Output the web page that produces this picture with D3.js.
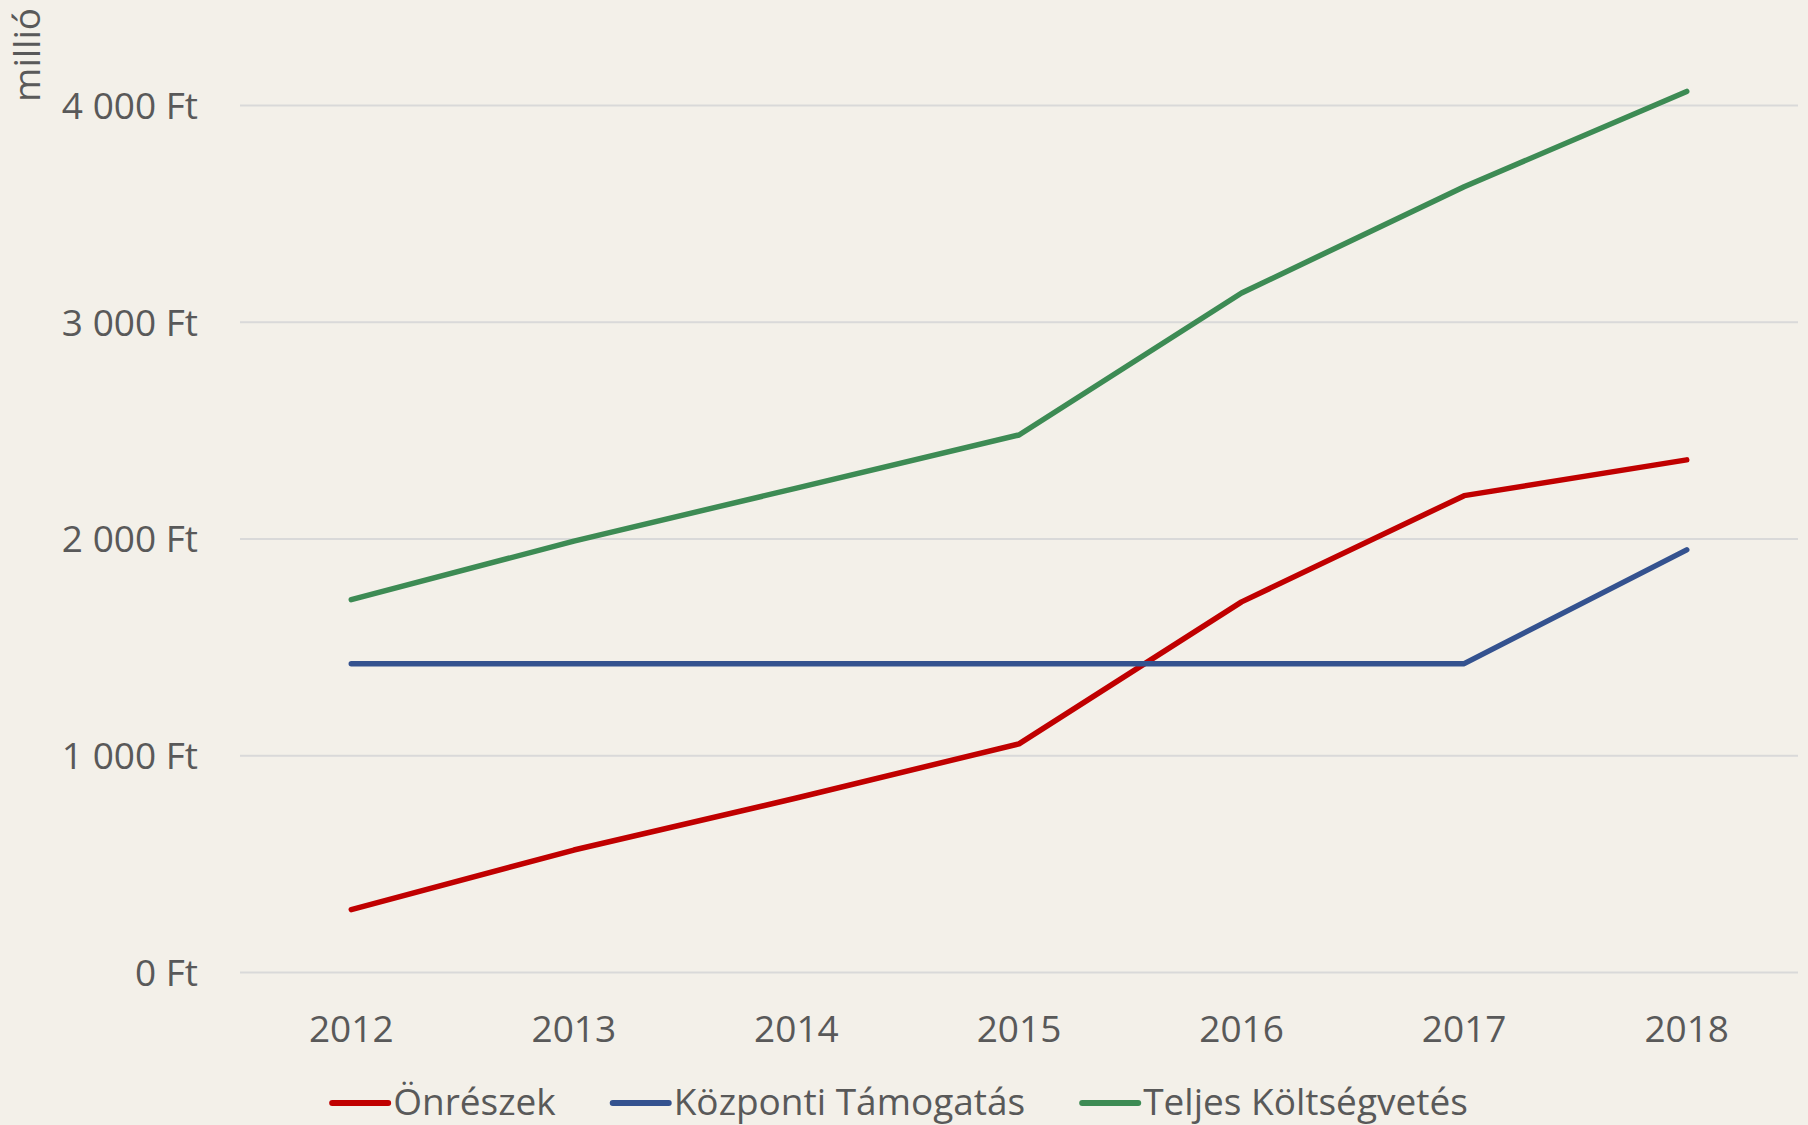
<!DOCTYPE html>
<html>
<head>
<meta charset="utf-8">
<script src="https://cdn.jsdelivr.net/npm/d3@7"></script>
<style>
  html, body { margin: 0; padding: 0; background: #F3F0E9; }
  svg { display: block; }
</style>
</head>
<body>
<div id="chart"></div>
<script>
// Data
var years = ['2012', '2013', '2014', '2015', '2016', '2017', '2018'];
var onreszek = [290, 565, 805, 1055, 1710, 2200, 2365];
var kozponti = [1425, 1425, 1425, 1425, 1425, 1425, 1950];
var teljes = [1720, 1990, 2235, 2480, 3135, 3625, 4065];
var yTicks = [0, 1000, 2000, 3000, 4000];
var seriesNames = ['Önrészek', 'Központi Támogatás', 'Teljes Költségvetés'];
var seriesColors = ['#C00000', '#34528F', '#3D8B54'];

var series = [onreszek, kozponti, teljes];

var settings = {}
settings.font_family = '"Open Sans", "Noto Sans", sans-serif'
settings.font_size = '37px'
settings.text_color = '#595959'
settings.grid_color = '#D9D9D9'
settings.line_width = 5.5

var width = 1808, height = 1125;
var plot = {left: 240, right: 1798, top: 105.5, bottom: 972.5};

var svg = d3.select('#chart').append('svg')
    .attr('width', width)
    .attr('height', height);

svg.append('rect')
    .attr('width', width)
    .attr('height', height)
    .attr('fill', '#F3F0E9');

var x = d3.scaleBand()
    .domain(years)
    .range([plot.left, plot.right]);

var y = d3.scaleLinear()
    .domain([0, 4000])
    .range([plot.bottom, plot.top]);

function fmt(v) {
  return d3.format(',')(v).replace(/,/g, ' ') + ' Ft'
}

// gridlines
svg.append('g')
  .selectAll('line')
  .data(yTicks)
  .enter().append('line')
    .attr('x1', plot.left)
    .attr('x2', plot.right)
    .attr('y1', function(d) { return y(d) })
    .attr('y2', function(d) { return y(d) })
    .attr('stroke', settings.grid_color)
    .attr('stroke-width', 2);

// y tick labels
svg.append('g')
  .selectAll('text')
  .data(yTicks)
  .enter().append('text')
    .attr('x', 198)
    .attr('y', function(d) { return y(d) })
    .attr('dy', '0.36em')
    .attr('text-anchor', 'end')
    .attr('font-family', settings.font_family)
    .attr('font-size', settings.font_size)
    .attr('fill', settings.text_color)
    .text(fmt);

// x tick labels
svg.append('g')
  .selectAll('text')
  .data(years)
  .enter().append('text')
    .attr('x', function(d) { return x(d) + x.bandwidth() / 2 })
    .attr('y', 1042)
    .attr('text-anchor', 'middle')
    .attr('font-family', settings.font_family)
    .attr('font-size', settings.font_size)
    .attr('fill', settings.text_color)
    .text(function(d) { return d });

// axis title
svg.append('text')
    .attr('transform', 'translate(40,8) rotate(-90)')
    .attr('text-anchor', 'end')
    .attr('font-family', settings.font_family)
    .attr('font-size', settings.font_size)
    .attr('fill', settings.text_color)
    .text('millió');

// lines
var line = d3.line()
    .x(function(d, i) { return x(years[i]) + x.bandwidth() / 2 })
    .y(function(d) { return y(d) });

series.forEach(function(s, i) {
  svg.append('path')
      .datum(s)
      .attr('d', line)
      .attr('fill', 'none')
      .attr('stroke', seriesColors[i])
      .attr('stroke-width', settings.line_width)
      .attr('stroke-linecap', 'round')
      .attr('stroke-linejoin', 'round');
});

// legend
var legend = svg.append('g');
var items = legend.selectAll('g')
    .data(seriesNames)
    .enter().append('g');

items.append('line')
    .attr('x1', 0)
    .attr('x2', 56)
    .attr('y1', 1103)
    .attr('y2', 1103)
    .attr('stroke', function(d, i) { return seriesColors[i] })
    .attr('stroke-width', 6)
    .attr('stroke-linecap', 'round');

items.append('text')
    .attr('x', 61)
    .attr('y', 1115)
    .attr('font-family', settings.font_family)
    .attr('font-size', settings.font_size)
    .attr('fill', settings.text_color)
    .text(function(d) { return d });

var offsets = [], cur = 0;
items.each(function() {
  offsets.push(cur);
  cur += 61 + this.querySelector('text').getComputedTextLength() + 57;
});
var total = cur - 57;
var start = 900 - total / 2;
items.attr('transform', function(d, i) { return 'translate(' + (start + offsets[i]) + ',0)' });
</script>
</body>
</html>
